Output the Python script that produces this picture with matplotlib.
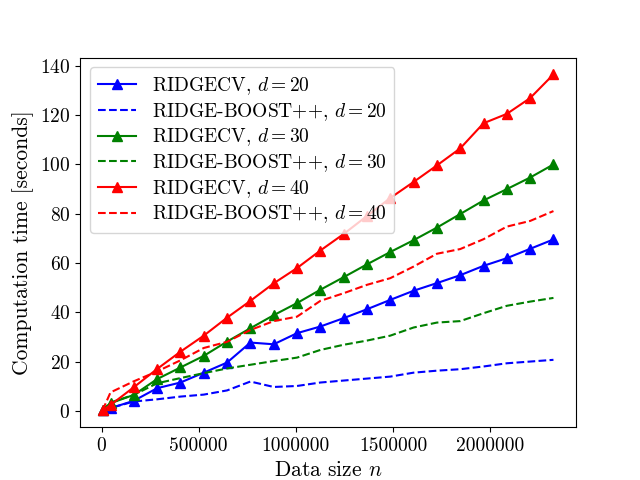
import matplotlib
matplotlib.use("Agg")
import matplotlib.pyplot as plt

plt.rcParams['font.family'] = 'serif'
plt.rcParams['font.serif'] = ['cmr10', 'DejaVu Serif']
plt.rcParams['mathtext.fontset'] = 'cm'
plt.rcParams['axes.formatter.use_mathtext'] = True

n = [5000] + [46000 + 120000 * k for k in range(20)]

ridgecv_20 = [0.2, 1.1, 4.1, 9.2, 11.5, 15.5, 19.6, 27.7, 27.0, 31.5, 34.2, 37.6,
              41.2, 45.0, 48.7, 51.8, 55.0, 58.8, 61.9, 65.7, 69.5]
boost_20 = [0.2, 1.2, 3.8, 4.7, 5.8, 6.6, 8.3, 11.9, 9.7, 10.1, 11.5, 12.3,
            13.1, 13.9, 15.5, 16.3, 16.9, 18.0, 19.3, 20.0, 20.7]
ridgecv_30 = [0.3, 3.1, 6.5, 12.9, 17.6, 22.3, 28.1, 33.5, 38.8, 43.7, 49.1, 54.2,
              59.4, 64.4, 69.2, 74.3, 79.8, 85.3, 89.9, 94.6, 99.9]
boost_30 = [0.2, 3.4, 6.5, 11.2, 13.3, 15.3, 17.2, 18.7, 20.2, 21.6, 24.7, 26.8,
            28.5, 30.5, 33.8, 35.8, 36.4, 39.6, 42.6, 44.3, 45.8]
ridgecv_40 = [0.2, 2.4, 9.6, 17.0, 24.0, 30.5, 37.8, 44.6, 51.7, 57.9, 65.0, 71.7,
              79.0, 86.3, 92.8, 99.5, 106.4, 116.6, 120.4, 126.8, 136.4]
boost_40 = [0.2, 7.5, 12.0, 16.0, 20.5, 25.5, 28.0, 32.8, 36.4, 38.2, 44.6, 47.7,
            51.1, 53.8, 58.5, 63.7, 65.6, 69.6, 74.7, 77.0, 81.0]

dims = [20, 30, 40]
colors = ['blue', 'green', 'red']
ridge_series = [ridgecv_20, ridgecv_30, ridgecv_40]
boost_series = [boost_20, boost_30, boost_40]

fig, ax = plt.subplots(figsize=(6.4, 4.8), dpi=100)
for d, c, r, b in zip(dims, colors, ridge_series, boost_series):
    ax.plot(n, r, color=c, linestyle='-', marker='^', markersize=7,
            label='RIDGECV, $d = %d$' % d)
    ax.plot(n, b, color=c, linestyle='--', label='RIDGE-BOOST++, $d = %d$' % d)

ax.set_xticks([0, 500000, 1000000, 1500000, 2000000])
ax.set_xticklabels(['0', '500000', '1000000', '1500000', '2000000'])
ax.set_yticks([0, 20, 40, 60, 80, 100, 120, 140])
ax.tick_params(labelsize=14)
ax.set_xlabel('Data size $n$', fontsize=15.5)
ax.set_ylabel('Computation time [seconds]', fontsize=15.5)
ax.legend(loc='upper left', fontsize=14, labelspacing=0.2, borderaxespad=0.5)

fig.savefig('out.png', dpi=100)
